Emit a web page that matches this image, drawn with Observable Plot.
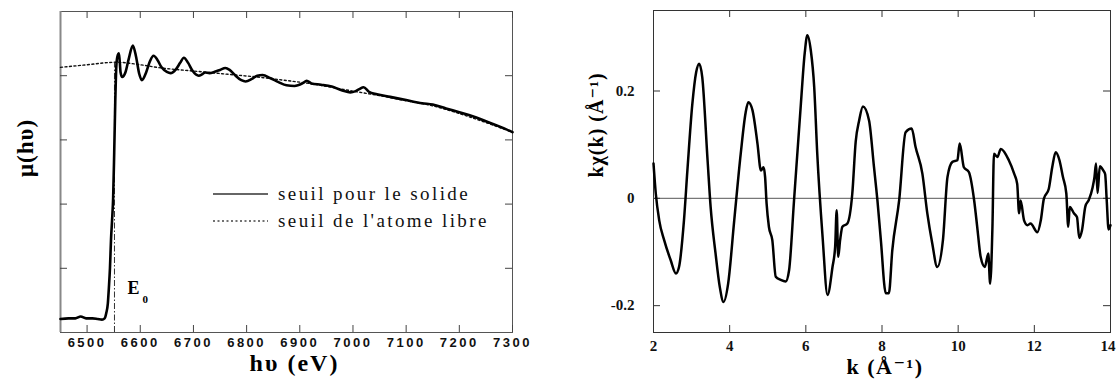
<!DOCTYPE html>
<html>
<head>
<meta charset="utf-8">
<script src="https://cdn.jsdelivr.net/npm/d3@7"></script>
<script src="https://cdn.jsdelivr.net/npm/@observablehq/plot@0.6"></script>
<style>
  body { margin: 0; background: white; }
  #wrap { position: relative; width: 1116px; height: 385px; overflow: hidden; background: white; }
  #left, #right { position: absolute; top: 0; }
  #left { left: 0; }
  #right { left: 556px; }
  #left g[aria-label="x-axis tick label"] text { font-family: "Liberation Sans", Arial, sans-serif !important; font-weight: bold; letter-spacing: 2.5px; }
  .serif text, #right g[aria-label="x-axis tick label"] text, #right g[aria-label="y-axis tick label"] text { font-family: "Liberation Serif", "DejaVu Serif", serif !important; font-weight: bold; }
  .lblx text { letter-spacing: 2px; }
  .lbly text { letter-spacing: 1px; }
  .rlblx text { letter-spacing: 1.5px; }
  .rlbly text { letter-spacing: 1px; }
  #legend { position: absolute; left: 213px; top: 180px; font-family: "Liberation Serif", "DejaVu Serif", serif; font-size: 19px; letter-spacing: 2.4px; color: #111; }
  #legend .row { display: flex; align-items: center; height: 27px; }
  #legend svg { width: 65px; height: 10px; flex: none; }
</style>
</head>
<body>
<div id="wrap">
  <div id="left"></div>
  <div id="right"></div>
  <div id="legend"></div>
</div>
<script>
// ---------- Left panel: absorption edge ----------
const energyTicks = [6500, 6600, 6700, 6800, 6900, 7000, 7100, 7200, 7300];
const muTicks = [1, 2, 3, 4];
const energyDomain = [6450, 7300];
const muDomain = [0, 5];
const E0 = 6551.5;

// solid (measured) curve: energy (eV)
const solidE = [6450, 6465, 6478, 6488, 6498, 6510, 6520, 6528, 6533, 6536, 6539, 6541, 6543, 6545, 6547, 6549, 6551, 6553, 6555, 6557, 6560, 6563, 6566,
  6572, 6578, 6586, 6592, 6598, 6603, 6611, 6618, 6625, 6632, 6640, 6650, 6657, 6667, 6675, 6682, 6690, 6698, 6710, 6716, 6722, 6730,
  6740, 6750, 6760, 6768, 6778, 6790, 6798, 6810, 6820, 6830, 6845, 6860, 6875, 6890, 6905, 6913, 6922, 6940, 6960, 6980, 6995,
  7005, 7012, 7020, 7030, 7045, 7070, 7100, 7130, 7150, 7175, 7200, 7225, 7250, 7275, 7300];
// solid curve: mu (arbitrary units)
const solidMu = [0.21, 0.22, 0.22, 0.25, 0.22, 0.22, 0.21, 0.2, 0.22, 0.3, 0.45, 0.7, 1.0, 1.45, 1.75, 2.1, 2.8, 3.6, 4.15, 4.3, 4.35, 4.05, 3.98,
  4.05, 4.25, 4.47, 4.3, 4.03, 3.93, 4.05, 4.22, 4.31, 4.25, 4.13, 4.06, 4.04, 4.1, 4.2, 4.28, 4.2, 4.08, 4.0, 4.02, 4.05, 4.04,
  4.06, 4.09, 4.12, 4.09, 4.01, 3.93, 3.91, 3.95, 4.0, 4.01, 3.96, 3.9, 3.85, 3.84, 3.88, 3.92, 3.88, 3.86, 3.83, 3.77, 3.74,
  3.76, 3.79, 3.82, 3.75, 3.71, 3.67, 3.62, 3.57, 3.55, 3.49, 3.43, 3.37, 3.29, 3.21, 3.12];

// dotted (free atom) curve
const freeE = [6450, 6500, 6555, 6600, 6640, 6690, 6730, 6780, 6820, 6870, 6925, 6960, 7000, 7050, 7100, 7150, 7200, 7250, 7300];
const freeMu = [4.13, 4.17, 4.21, 4.17, 4.12, 4.08, 4.05, 4.01, 3.98, 3.93, 3.87, 3.82, 3.76, 3.69, 3.61, 3.53, 3.41, 3.27, 3.12];

const legendLabels = ["seuil pour le solide", "seuil de l'atome libre"];

// ---------- Right panel: EXAFS k*chi(k) ----------
const kTicks = [2, 4, 6, 8, 10, 12, 14];
const chiTicks = [-0.2, 0, 0.2];
const chiTickLabels = ["-0.2", "0", "0.2"];
const kDomain = [2, 14];
const chiDomain = [-0.25, 0.35];

const kVals = [2.0, 2.06, 2.15, 2.28, 2.45, 2.59, 2.67, 2.8, 2.89, 3.02, 3.12, 3.2, 3.28, 3.42, 3.5, 3.63, 3.74, 3.84, 3.96,
  4.12, 4.29, 4.42, 4.49, 4.6, 4.73, 4.82, 4.89, 4.93, 4.97, 5.03, 5.12, 5.21, 5.34, 5.47, 5.56, 5.69, 5.87, 5.97, 6.04, 6.13,
  6.22, 6.3, 6.44, 6.57, 6.7, 6.77, 6.81, 6.85, 6.9, 6.96, 7.09, 7.22, 7.31, 7.4, 7.5, 7.66, 7.79, 7.88, 7.97, 8.1, 8.18, 8.27,
  8.45, 8.62, 8.78, 8.88, 9.06, 9.19, 9.32, 9.45, 9.6, 9.72, 9.85, 9.98, 10.04, 10.15, 10.28, 10.42, 10.5, 10.59, 10.7, 10.79,
  10.84, 10.9, 10.94, 11.03, 11.12, 11.33, 11.47, 11.55, 11.6, 11.64, 11.73, 11.82, 11.9, 12.08, 12.17, 12.25, 12.38, 12.47,
  12.56, 12.66, 12.75, 12.84, 12.89, 12.93, 13.04, 13.12, 13.18, 13.25, 13.34, 13.43, 13.53, 13.58, 13.62, 13.66, 13.72, 13.81,
  13.86, 13.9, 13.95, 14.0];
const chiVals = [0.065, 0.009, -0.041, -0.078, -0.115, -0.14, -0.128, -0.041, 0.052, 0.176, 0.235, 0.251, 0.226, 0.071, -0.016, -0.103, -0.165, -0.193, -0.159,
  -0.041, 0.083, 0.16, 0.179, 0.164, 0.102, 0.052, 0.058, 0.04, -0.01, -0.053, -0.078, -0.146, -0.152, -0.155, -0.134, -0.004, 0.176, 0.27, 0.304, 0.276,
  0.207, 0.083, -0.072, -0.18, -0.128, -0.09, -0.022, -0.109, -0.078, -0.053, -0.047, 0.009, 0.106, 0.145, 0.171, 0.145, 0.058, -0.004, -0.078, -0.177, -0.177, -0.097,
  -0.004, 0.123, 0.13, 0.096, 0.046, -0.028, -0.084, -0.128, -0.078, 0.04, 0.068, 0.071, 0.102, 0.058, 0.049, -0.004, -0.053, -0.109, -0.128, -0.103,
  -0.159, -0.053, 0.083, 0.077, 0.092, 0.071, 0.046, 0.027, -0.028, -0.004, -0.041, -0.05, -0.047, -0.063, -0.041, -0.001, 0.018, 0.058,
  0.086, 0.071, 0.04, 0.009, -0.053, -0.016, -0.028, -0.035, -0.074, -0.06, -0.015, -0.003, 0.02, 0.04, 0.065, 0.01, 0.06, 0.052,
  0.045, -0.003, -0.058, -0.05];

const solid = solidE.map((e, i) => ({e, mu: solidMu[i]}));
const free = freeE.map((e, i) => ({e, mu: freeMu[i]}));
const exafs = kVals.map((k, i) => ({k, chi: chiVals[i]}));

const serif = "'Liberation Serif', 'DejaVu Serif', serif";
const sans = "'Liberation Sans', Arial, sans-serif";

// inward tick lengths in data units (~7 px)
const lxTick = (muDomain[1] - muDomain[0]) * 7 / 321;
const lyTick = (energyDomain[1] - energyDomain[0]) * 7 / 452;

const left = Plot.plot({
  width: 556, height: 385,
  marginLeft: 60, marginRight: 44, marginTop: 11, marginBottom: 53,
  style: {background: "white", color: "#111", overflow: "visible"},
  x: {domain: energyDomain, axis: null},
  y: {domain: muDomain, axis: null},
  marks: [
    Plot.frame({stroke: "#555", strokeWidth: 1}),
    Plot.ruleX([energyDomain[0]], {stroke: "#888", strokeWidth: 2}),
    Plot.axisX({ticks: energyTicks, tickSize: 0, tickPadding: 5, label: null, fontSize: 13, fontWeight: "bold", fontFamily: sans, tickFormat: d => String(d)}),
    Plot.ruleX(energyTicks, {x: d => d, y1: muDomain[0], y2: muDomain[0] + lxTick, stroke: "#444"}),
    Plot.ruleX(energyTicks, {x: d => d, y1: muDomain[1], y2: muDomain[1] - lxTick, stroke: "#444"}),
    Plot.ruleY(muTicks, {y: d => d, x1: energyDomain[0], x2: energyDomain[0] + lyTick, stroke: "#444"}),
    Plot.ruleY(muTicks, {y: d => d, x1: energyDomain[1], x2: energyDomain[1] - lyTick, stroke: "#444"}),
    Plot.line(free, {x: "e", y: "mu", stroke: "#111", strokeWidth: 1.4, strokeDasharray: "2,2.5", curve: "monotone-x"}),
    Plot.ruleX([E0], {x: d => d, y1: muDomain[0], y2: 4.2, stroke: "#333", strokeWidth: 1, strokeDasharray: "6,2,1.5,2"}),
    Plot.line(solid, {x: "e", y: "mu", stroke: "#000", strokeWidth: 2.6, strokeLinejoin: "round", curve: "monotone-x"}),
    Plot.text([E0], {x: d => d, frameAnchor: "bottom", dy: -39, dx: 13, text: () => "E", textAnchor: "start", fontWeight: "bold", fontSize: 18, fontFamily: serif, fill: "#000", className: "serif"}),
    Plot.text([E0], {x: d => d, frameAnchor: "bottom", dy: -30, dx: 28, text: () => "0", textAnchor: "start", fontWeight: "bold", fontSize: 11, fontFamily: serif, fill: "#000", className: "serif"}),
    Plot.text(["hυ (eV)"], {frameAnchor: "bottom", dy: 38, dx: 8, text: d => d, fontWeight: "bold", fontSize: 24, fontFamily: serif, fill: "#000", className: "serif lblx"}),
    Plot.text(["μ(hυ)"], {frameAnchor: "left", dx: -35, dy: 5, rotate: -90, text: d => d, fontWeight: "bold", fontSize: 23, fontFamily: serif, fill: "#000", className: "serif lbly"})
  ]
});
document.getElementById("left").appendChild(left);

const cxTick = (chiDomain[1] - chiDomain[0]) * 7 / 322;
const cyTick = (kDomain[1] - kDomain[0]) * 7 / 457;

const right = Plot.plot({
  width: 560, height: 385,
  marginLeft: 97, marginRight: 6, marginTop: 10, marginBottom: 53,
  style: {background: "white", color: "#111", overflow: "visible"},
  x: {domain: kDomain, axis: null},
  y: {domain: chiDomain, axis: null},
  marks: [
    Plot.frame({stroke: "#333", strokeWidth: 1}),
    Plot.ruleY([0], {stroke: "#777", strokeWidth: 1.2}),
    Plot.axisX({ticks: kTicks, tickSize: 0, tickPadding: 8, label: null, fontSize: 15, fontWeight: "bold", fontFamily: serif, tickFormat: d => String(d)}),
    Plot.axisY({ticks: chiTicks, tickSize: 0, tickPadding: 19, label: null, fontSize: 15, fontWeight: "bold", fontFamily: serif, tickFormat: d => chiTickLabels[chiTicks.indexOf(d)]}),
    Plot.ruleX(kTicks, {x: d => d, y1: chiDomain[0], y2: chiDomain[0] + cxTick, stroke: "#333"}),
    Plot.ruleX(kTicks, {x: d => d, y1: chiDomain[1], y2: chiDomain[1] - cxTick, stroke: "#333"}),
    Plot.ruleY(chiTicks, {y: d => d, x1: kDomain[0], x2: kDomain[0] + cyTick, stroke: "#333"}),
    Plot.ruleY(chiTicks, {y: d => d, x1: kDomain[1], x2: kDomain[1] - cyTick, stroke: "#333"}),
    Plot.line(exafs, {x: "k", y: "chi", stroke: "#000", strokeWidth: 2.5, strokeLinejoin: "round", curve: "monotone-x"}),
    Plot.text(["k (Å⁻¹)"], {frameAnchor: "bottom", dy: 41, dx: 3, text: d => d, fontWeight: "bold", fontSize: 22, fontFamily: serif, fill: "#000", className: "serif rlblx"}),
    Plot.text(["kχ(k) (Å⁻¹)"], {frameAnchor: "left", dx: -57, dy: 6, rotate: -90, text: d => d, fontWeight: "bold", fontSize: 20, fontFamily: serif, fill: "#000", className: "serif rlbly"})
  ]
});
document.getElementById("right").appendChild(right);

// keep the last k tick label ("14") inside the window
const kLabels = right.querySelectorAll('g[aria-label="x-axis tick label"] text');
if (kLabels.length) {
  const last = kLabels[kLabels.length - 1];
  last.setAttribute("text-anchor", "end");
  last.setAttribute("dx", "5");
}

// legend (left panel)
const legend = document.getElementById("legend");
const dashes = [null, "2,2.5"];
legendLabels.forEach((lab, i) => {
  const row = document.createElement("div");
  row.className = "row";
  const svg = document.createElementNS("http://www.w3.org/2000/svg", "svg");
  const ln = document.createElementNS("http://www.w3.org/2000/svg", "line");
  ln.setAttribute("x1", 0); ln.setAttribute("x2", 55); ln.setAttribute("y1", 5); ln.setAttribute("y2", 5);
  ln.setAttribute("stroke", i === 0 ? "#333" : "#444");
  ln.setAttribute("stroke-width", i === 0 ? 1.5 : 1.3);
  if (dashes[i]) ln.setAttribute("stroke-dasharray", dashes[i]);
  svg.appendChild(ln);
  const span = document.createElement("span");
  span.textContent = lab;
  row.appendChild(svg);
  row.appendChild(span);
  legend.appendChild(row);
});
</script>
</body>
</html>
